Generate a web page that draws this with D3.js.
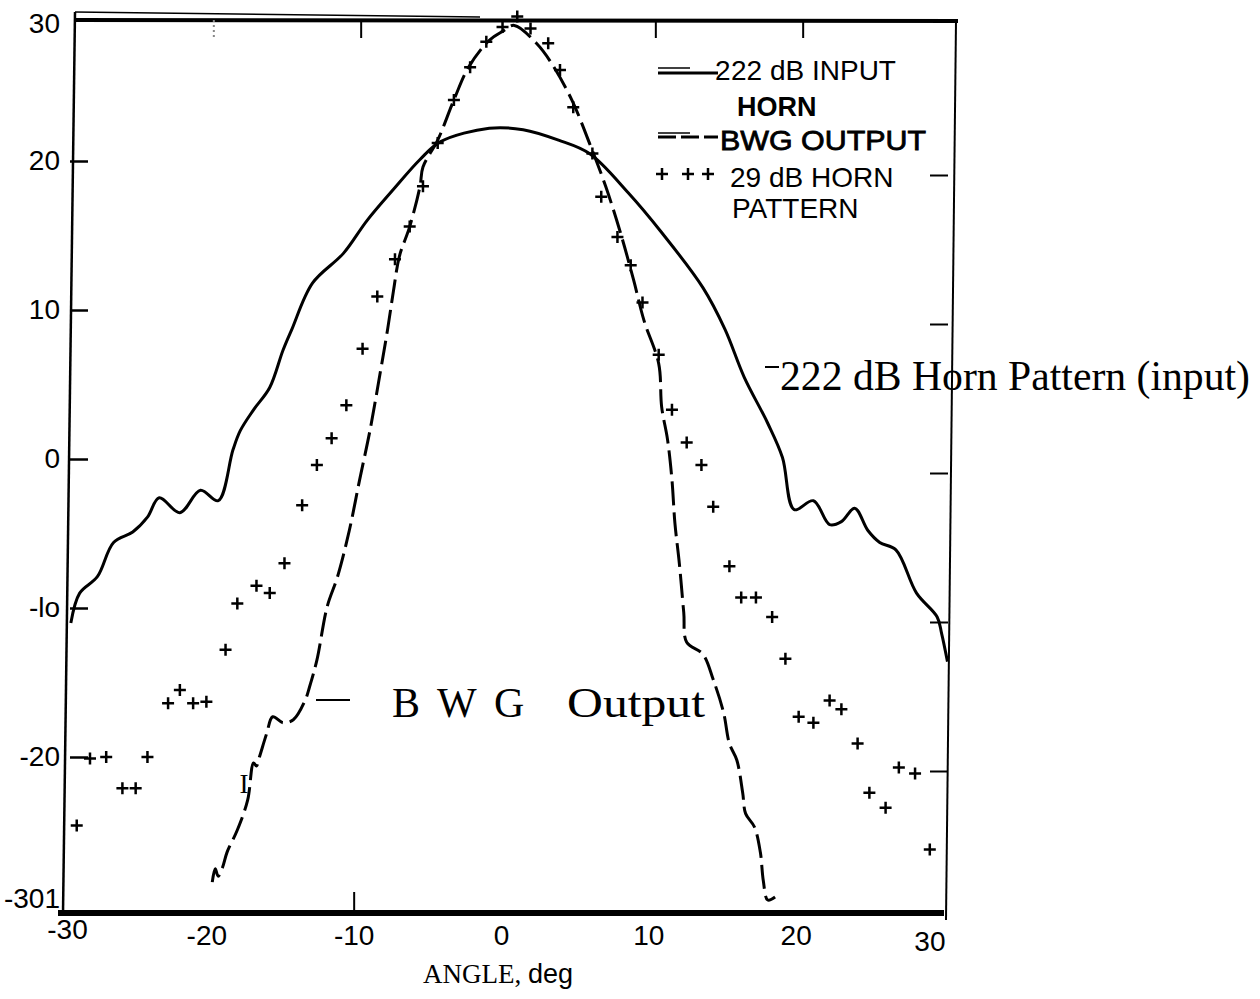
<!DOCTYPE html>
<html>
<head>
<meta charset="utf-8">
<script src="https://cdn.jsdelivr.net/npm/d3@7.9.0/dist/d3.min.js"></script>
<style>
  body { margin: 0; background: #fff; }
  svg { display: block; }
  .sans { font-family: "Liberation Sans", Arial, sans-serif; }
  .serif { font-family: "Liberation Serif", "Times New Roman", serif; }
</style>
</head>
<body>
<svg id="chart" width="1260" height="999"></svg>
<script>
// tick values and the labels as printed on the scan
const xTicks = [-30, -20, -10, 0, 10, 20, 30];
const xTickLabels = ["-30", "-20", "-10", "0", "10", "20", "30"];
const yTicks = [30, 20, 10, 0, -10, -20, -30];
const yTickLabels = ["30", "20", "10", "0", "-lo", "-20", "-301"];

// 22 dB input horn (solid), [angle deg, dB]
const inputHorn = [
  [-29.4, -11.0], [-28.8, -9.0], [-27.6, -7.9], [-26.5, -5.6], [-25.2, -4.9],
  [-24.2, -3.9], [-23.4, -2.6], [-22.0, -3.6], [-20.6, -2.1], [-19.4, -2.8],
  [-18.4, 0.6], [-17.9, 1.9], [-17.0, 3.3], [-15.9, 4.8], [-15.0, 7.3],
  [-14.4, 8.7], [-13.0, 11.8], [-10.9, 13.8], [-9.3, 16.0], [-7.5, 18.1],
  [-5.7, 20.1], [-4.3, 21.3], [-1.0, 22.2], [1.3, 22.1], [3.7, 21.4],
  [5.8, 20.5], [8.4, 17.9], [10.7, 15.2], [13.5, 11.5], [15.0, 8.7],
  [16.3, 5.5], [17.9, 2.4], [18.9, 0.1], [19.7, -3.4], [21.0, -2.8],
  [22.1, -4.4], [22.9, -4.2], [23.8, -3.3], [24.7, -4.8], [25.5, -5.6],
  [26.6, -6.1], [28.0, -9.0], [29.4, -10.6], [29.7, -11.7], [30.1, -13.6]
];

// BWG output (dashed)
const bwgOutput = [
  [-19.8, -28.4], [-19.6, -27.5], [-19.4, -28.0], [-19.1, -27.4], [-18.8, -26.4],
  [-18.1, -24.9], [-17.4, -22.9], [-17.0, -20.4], [-16.8, -20.6], [-16.6, -20.0],
  [-16.1, -18.4], [-15.7, -17.3], [-15.0, -17.7], [-14.3, -17.5], [-13.5, -16.2],
  [-13.2, -15.3], [-12.7, -13.5], [-12.0, -9.9], [-11.3, -7.9], [-10.5, -4.8],
  [-9.8, -1.4], [-9.1, 1.9], [-8.4, 5.8], [-7.9, 8.7], [-7.5, 11.3],
  [-7.1, 13.6], [-6.4, 15.6], [-5.7, 18.3], [-5.5, 19.6], [-4.5, 21.4],
  [-3.4, 24.1], [-2.4, 26.3], [-1.0, 28.1], [-0.1, 28.7], [0.7, 29.1],
  [2.2, 27.9], [3.2, 26.6], [4.6, 24.1], [5.8, 21.2], [6.9, 18.3],
  [7.9, 15.2], [8.8, 12.0], [9.5, 9.3], [10.5, 6.4], [10.7, 3.5],
  [11.1, 1.3], [11.4, -1.4], [11.6, -4.3], [11.9, -7.0], [12.2, -10.3],
  [12.4, -12.3], [13.5, -13.1], [14.2, -14.8], [14.9, -17.0], [15.3, -19.1],
  [15.8, -20.2], [16.2, -22.4], [16.4, -23.8], [17.0, -24.7], [17.4, -26.4],
  [17.6, -28.3], [17.9, -29.6], [18.4, -29.4]
];

// 29 dB horn pattern (plus marks)
const horn29 = [
  [-29.0, -24.6], [-28.1, -20.1], [-27.0, -20.0], [-25.9, -22.1], [-25.0, -22.1],
  [-24.2, -20.0], [-22.8, -16.4], [-22.0, -15.5], [-21.1, -16.4], [-20.2, -16.3],
  [-18.9, -12.8], [-18.1, -9.7], [-16.8, -8.5], [-15.9, -9.0], [-14.9, -7.0],
  [-13.7, -3.1], [-12.7, -0.4], [-11.7, 1.4], [-10.7, 3.6], [-9.6, 7.4],
  [-8.6, 10.9], [-7.4, 13.4], [-6.4, 15.6], [-5.5, 18.3], [-4.5, 21.2],
  [-3.4, 24.1], [-2.3, 26.3], [-1.2, 28.0], [-0.1, 29.0], [0.9, 29.7],
  [1.8, 28.9], [3.0, 27.9], [3.8, 26.1], [4.7, 23.6], [6.0, 20.5],
  [6.6, 17.6], [7.7, 14.9], [8.6, 13.0], [9.4, 10.5], [10.5, 7.0],
  [11.4, 3.3], [12.4, 1.1], [13.4, -0.4], [14.2, -3.2], [15.3, -7.2],
  [16.1, -9.3], [17.1, -9.3], [18.2, -10.6], [19.1, -13.4], [20.0, -17.3],
  [21.0, -17.7], [22.1, -16.2], [22.9, -16.8], [24.0, -19.1], [24.8, -22.4],
  [25.9, -23.4], [26.8, -20.7], [27.9, -21.1], [28.9, -26.2]
];

const svg = d3.select('#chart');
const x = d3.scaleLinear().domain([-30, 30]).range([62, 946]);
const y = d3.scaleLinear().domain([-30, 30]).range([906, 12]);

// frame (the scan is a bit skewed)
const frame = svg.append('g').attr('stroke', '#000').attr('fill', 'none');
frame.append('line').attr('x1', 75).attr('y1', 12).attr('x2', 480).attr('y2', 17).attr('stroke-width', 1.5);
frame.append('line').attr('x1', 75).attr('y1', 20).attr('x2', 958).attr('y2', 21).attr('stroke-width', 4);
frame.append('line').attr('x1', 75).attr('y1', 12).attr('x2', 63).attr('y2', 913).attr('stroke-width', 2.5);
frame.append('line').attr('x1', 956).attr('y1', 21).attr('x2', 946).attr('y2', 920).attr('stroke-width', 2);
frame.append('line').attr('x1', 58).attr('y1', 913).attr('x2', 944).attr('y2', 913).attr('stroke-width', 6);

// left axis
const yAxis = d3.axisLeft(y)
  .tickValues(yTicks)
  .tickFormat((d, i) => yTickLabels[i])
  .tickSizeInner(-18)
  .tickSizeOuter(0)
  .tickPadding(10);
const gy = svg.append('g').attr('transform', 'translate(70,0)').call(yAxis);
gy.select('.domain').remove();
gy.selectAll('.tick line').attr('stroke', '#000').attr('stroke-width', 2.5);
gy.selectAll('.tick').filter(d => Math.abs(d) === 30).select('line').remove();
gy.selectAll('.tick text').attr('class', 'sans').attr('fill', '#000').style('font-size', '28px');
gy.selectAll('.tick').filter(d => d === 30).select('text').attr('y', 12);
gy.selectAll('.tick').filter(d => d === -30).select('text').attr('y', -7);

// right axis, ticks only
const yAxisR = d3.axisRight(y).tickValues([20, 10, 0, -10, -20]).tickFormat('').tickSizeInner(-18).tickSizeOuter(0);
const gyr = svg.append('g').attr('transform', 'translate(948,14)').call(yAxisR);
gyr.select('.domain').remove();
gyr.selectAll('.tick line').attr('stroke', '#000').attr('stroke-width', 2);

// top axis, ticks only
const xAxisT = d3.axisTop(x).tickValues([-20, -10, 10, 20]).tickFormat('').tickSizeInner(-18).tickSizeOuter(0);
const gxt = svg.append('g').attr('transform', 'translate(4,20)').call(xAxisT);
gxt.select('.domain').remove();
gxt.selectAll('.tick line').attr('stroke', '#000').attr('stroke-width', 2);
gxt.selectAll('.tick').filter(d => d === -20).select('line').attr('stroke', '#888').attr('stroke-dasharray', '2,3');

// bottom axis labels
const xAxis = d3.axisBottom(x)
  .tickValues(xTicks)
  .tickFormat((d, i) => xTickLabels[i])
  .tickSize(0)
  .tickPadding(12);
const gx = svg.append('g').attr('transform', 'translate(-3,913)').call(xAxis);
gx.select('.domain').remove();
gx.selectAll('.tick text').attr('class', 'sans').attr('fill', '#000').style('font-size', '28px');
gx.selectAll('.tick').filter(d => d === -30).select('text').attr('x', 8).attr('y', 6);
gx.selectAll('.tick').filter(d => d === 30).select('text').attr('text-anchor', 'end').attr('x', 2).attr('y', 18);

const xAxisTick = d3.axisBottom(x).tickValues([-10]).tickFormat('').tickSizeInner(-18).tickSizeOuter(0);
const gxb = svg.append('g').attr('transform', 'translate(-3,910)').call(xAxisTick);
gxb.select('.domain').remove();
gxb.selectAll('.tick line').attr('stroke', '#000').attr('stroke-width', 2);

// axis title
const xt = svg.append('text').attr('x', 423).attr('y', 983).attr('fill', '#000').style('font-size', '27px');
xt.append('tspan').attr('class', 'serif').text('ANGLE,\u00a0');
xt.append('tspan').attr('class', 'sans').text('deg');

// curves
const line = d3.line()
  .x(d => x(d[0]))
  .y(d => y(d[1]))
  .curve(d3.curveCatmullRom.alpha(0.5));

svg.append('path')
  .datum(inputHorn)
  .attr('d', line)
  .attr('fill', 'none')
  .attr('stroke', '#000')
  .attr('stroke-width', 3);

svg.append('path')
  .datum(bwgOutput)
  .attr('d', line)
  .attr('fill', 'none')
  .attr('stroke', '#000')
  .attr('stroke-width', 3)
  .attr('stroke-dasharray', '24,7');

const plus = (cx, cy, r) => `M${cx - r},${cy}h${2 * r}M${cx},${cy - r}v${2 * r}`;
svg.append('g')
  .selectAll('path')
  .data(horn29)
  .join('path')
  .attr('d', d => plus(x(d[0]), y(d[1]), 6))
  .attr('stroke', '#000')
  .attr('stroke-width', 2.5)
  .attr('fill', 'none');

// legend
const lg = svg.append('g');
lg.append('line').attr('x1', 658).attr('y1', 68).attr('x2', 690).attr('y2', 68).attr('stroke', '#000').attr('stroke-width', 1.5);
lg.append('line').attr('x1', 658).attr('y1', 73).attr('x2', 718).attr('y2', 73).attr('stroke', '#000').attr('stroke-width', 3);
lg.append('text').attr('class', 'sans').attr('x', 715).attr('y', 80).style('font-size', '28px').text('2');
lg.append('text').attr('class', 'sans').attr('x', 731).attr('y', 80).style('font-size', '28px').text('22 dB INPUT');
lg.append('text').attr('class', 'sans').attr('x', 737).attr('y', 116).style('font-size', '27px').style('font-weight', 'bold').text('HORN');

lg.append('line').attr('x1', 658).attr('y1', 133).attr('x2', 690).attr('y2', 133).attr('stroke', '#000').attr('stroke-width', 1.5);
lg.append('line').attr('x1', 658).attr('y1', 137).attr('x2', 718).attr('y2', 137).attr('stroke', '#000').attr('stroke-width', 3).attr('stroke-dasharray', '18,5');
lg.append('text').attr('class', 'sans').attr('x', 720).attr('y', 150).style('font-size', '28px')
  .attr('stroke', '#000').attr('stroke-width', 0.8)
  .attr('textLength', 206).attr('lengthAdjust', 'spacingAndGlyphs').text('BWG OUTPUT');

lg.selectAll('path.lp')
  .data([662, 688, 708])
  .join('path')
  .attr('class', 'lp')
  .attr('d', d => plus(d, 174, 6))
  .attr('stroke', '#000')
  .attr('stroke-width', 2.5);
lg.append('text').attr('class', 'sans').attr('x', 730).attr('y', 187).style('font-size', '28px').text('29 dB HORN');
lg.append('text').attr('class', 'sans').attr('x', 732).attr('y', 218).style('font-size', '28px').text('PATTERN');

// annotations
svg.append('line').attr('x1', 316).attr('y1', 700).attr('x2', 350).attr('y2', 700).attr('stroke', '#000').attr('stroke-width', 2);
const bwg = svg.append('text').attr('class', 'serif').attr('y', 717).style('font-size', '42px');
bwg.append('tspan').attr('x', 392).text('B');
bwg.append('tspan').attr('x', 437).text('W');
bwg.append('tspan').attr('x', 494).text('G');
bwg.append('tspan').attr('x', 567).attr('textLength', 138).attr('lengthAdjust', 'spacingAndGlyphs').text('Output');

svg.append('text').attr('class', 'serif').attr('x', 244).attr('y', 793).attr('text-anchor', 'middle').style('font-size', '27px').text('I');

svg.append('line').attr('x1', 765).attr('y1', 367).attr('x2', 779).attr('y2', 367).attr('stroke', '#000').attr('stroke-width', 2);
svg.append('text').attr('class', 'serif').attr('x', 780).attr('y', 390).style('font-size', '42px')
  .attr('textLength', 470).attr('lengthAdjust', 'spacingAndGlyphs').text('222 dB Horn Pattern (input)');
</script>
</body>
</html>
